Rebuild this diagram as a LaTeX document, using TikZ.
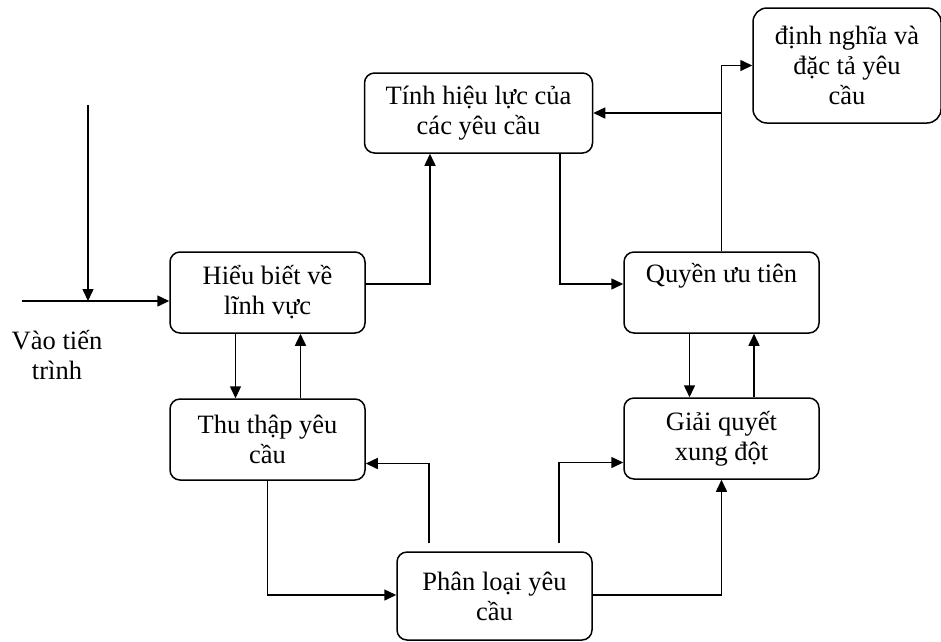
\documentclass[tikz,border=0pt]{standalone}
\usepackage{fontspec}
\setmainfont{Liberation Serif}
\usetikzlibrary{arrows.meta,calc}
\begin{document}
\begin{tikzpicture}[x=1pt,y=-1pt,
 box/.style={draw, line width=1.5pt, rounded corners=10pt, align=center, font=\fontsize{26.5}{30}\selectfont, inner sep=0pt},
 conn/.style={line width=1.5pt},
 arr/.style={conn, -{Triangle[length=12pt,width=11pt]}},
 lbl/.style={align=center, font=\fontsize{26.5}{30}\selectfont}]
\useasboundingbox (0,0) rectangle (941,641);
\node[box, minimum width=195pt, minimum height=81pt] (hieu) at (267.5,292.5) {Hiểu biết về\\lĩnh vực};
\node[box, minimum width=228pt, minimum height=80pt] (tinh) at (478.5,113) {Tính hiệu lực của\\các yêu cầu};
\node[box, minimum width=195pt, minimum height=81pt] (quyen) at (721.5,292.5) {Quyền ưu tiên\\\strut};
\node[box, rounded corners=14pt, minimum width=188pt, minimum height=115pt] (dinh) at (847,65.5) {định nghĩa và\\đặc tả yêu\\cầu};
\node[box, minimum width=195pt, minimum height=81pt] (thu) at (267.5,439.5) {Thu thập yêu\\cầu};
\node[box, minimum width=195pt, minimum height=81pt] (giai) at (721.5,438.5) {Giải quyết\\xung đột};
\node[box, minimum width=195pt, minimum height=88pt] (phan) at (494.5,596) {Phân loại yêu\\cầu};
\node[lbl] (vao) at (57,355) {Vào tiến\\trình};
\coordinate (inA) at (22,301);
\coordinate (inB) at (88,105);
\draw[arr] (inA) -- (inA -| hieu.west);
\draw[arr] (inB) -- (inB |- inA);
\draw[arr] ($(hieu.east)+(0,-8.5)$) -| ($(tinh.south)+(-48.5,0)$);
\draw[arr] ($(tinh.south)+(81.5,0)$) |- ($(quyen.west)+(0,-8.5)$);
\draw[arr] (quyen.north) |- (tinh.east);
\draw[arr] (quyen.north) |- (dinh.west);
\draw[arr] ($(hieu.south)+(-32,0)$) -- ($(thu.north)+(-32,0)$);
\draw[arr] ($(thu.north)+(33,0)$) -- ($(hieu.south)+(33,0)$);
\draw[arr] ($(quyen.south)+(-32,0)$) -- ($(giai.north)+(-32,0)$);
\draw[arr] ($(giai.north)+(32.5,0)$) -- ($(quyen.south)+(32.5,0)$);
\draw[arr] (thu.south) |- ($(phan.west)+(0,-1)$);
\draw[arr] ($(phan.north)+(-65.5,-8)$) |- ($(thu.east)+(0,24)$);
\draw[arr] ($(phan.north)+(64.5,-8)$) |- ($(giai.west)+(0,24)$);
\draw[arr] ($(phan.east)+(0,-1)$) -| (giai.south);
\end{tikzpicture}
\end{document}
